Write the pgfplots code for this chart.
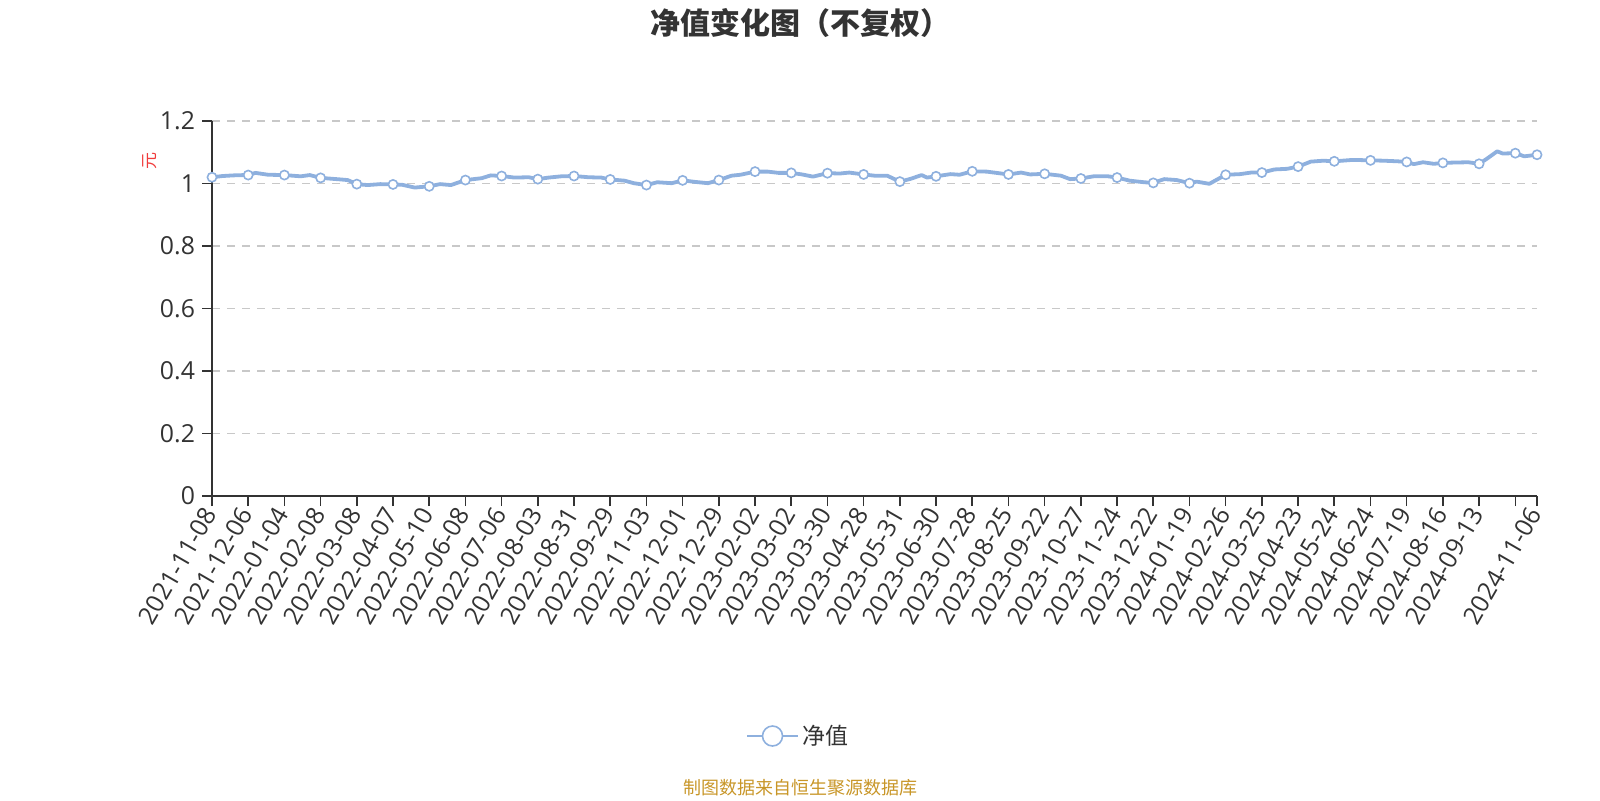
\documentclass[border=0pt]{standalone}
\usepackage{fontspec}
\setmainfont{Open Sans}
\newfontfamily\cjk{Noto Sans CJK SC}
\usepackage{pgfplots}
\pgfplotsset{compat=1.18}
\usepackage{pgfplotstable}
\definecolor{lineblue}{RGB}{142,176,222}
\definecolor{axisgray}{RGB}{51,51,51}
\definecolor{gridgray}{RGB}{200,200,200}
\definecolor{footgold}{RGB}{200,150,40}
\definecolor{ylabred}{RGB}{240,60,60}

\pgfplotstableread{
x y
0 1.020
6 1.024
12 1.026
18 1.027
20 1.027
24 1.034
31 1.028
40 1.027
49 1.023
54 1.027
60 1.018
71 1.013
75 1.011
80 0.998
86 0.995
93 0.998
100 0.997
105 0.996
112 0.987
120 0.991
126 0.998
132 0.995
140 1.011
149 1.017
154 1.026
160 1.024
167 1.019
175 1.020
180 1.014
186 1.019
193 1.023
200 1.024
208 1.020
215 1.019
220 1.013
228 1.009
233 1.001
240 0.995
246 1.004
254 1.001
260 1.010
267 1.005
274 1.001
280 1.011
287 1.025
292 1.028
300 1.038
307 1.038
313 1.034
320 1.034
326 1.029
332 1.022
340 1.033
347 1.032
352 1.035
360 1.029
366 1.025
373 1.025
380 1.006
386 1.015
392 1.027
395 1.019
400 1.023
408 1.030
413 1.028
420 1.039
428 1.038
436 1.032
440 1.029
447 1.035
452 1.029
460 1.031
469 1.025
474 1.014
480 1.016
487 1.023
495 1.023
500 1.019
507 1.009
515 1.004
520 1.002
526 1.014
533 1.011
540 1.001
544 1.006
551 0.999
560 1.028
568 1.030
574 1.035
580 1.035
587 1.045
594 1.047
600 1.054
607 1.070
614 1.073
620 1.071
629 1.075
634 1.075
640 1.074
647 1.073
655 1.071
660 1.069
664 1.062
669 1.068
675 1.063
680 1.066
686 1.067
694 1.068
700 1.063
704 1.078
710 1.103
713 1.096
720 1.097
725 1.087
732 1.092
}\navdata

\pgfplotstableread{
x y
0 1.020
20 1.027
40 1.027
60 1.018
80 0.998
100 0.997
120 0.991
140 1.011
160 1.024
180 1.014
200 1.024
220 1.013
240 0.995
260 1.010
280 1.011
300 1.038
320 1.034
340 1.033
360 1.029
380 1.006
400 1.023
420 1.039
440 1.029
460 1.031
480 1.016
500 1.019
520 1.002
540 1.001
560 1.028
580 1.035
600 1.054
620 1.071
640 1.074
660 1.069
680 1.066
700 1.063
720 1.097
732 1.092
}\navmarks

\begin{document}
\begin{tikzpicture}
\begin{axis}[
  at={(106pt,152pt)}, anchor=south west,
  scale only axis, width=662.5pt, height=187.5pt,
  xmin=0, xmax=732, ymin=0, ymax=1.2,
  clip=false,
  axis x line=bottom, axis y line=left,
  axis line style={-, draw=axisgray, line width=0.8pt},
  tick align=outside,
  major tick length=5pt,
  tick style={draw=axisgray, line width=0.8pt},
  xtick={0,20,40,60,80,100,120,140,160,180,200,220,240,260,280,300,320,340,360,380,400,420,440,460,480,500,520,540,560,580,600,620,640,660,680,700,720,732},
  xticklabels={2021-11-08,2021-12-06,2022-01-04,2022-02-08,2022-03-08,2022-04-07,2022-05-10,2022-06-08,2022-07-06,2022-08-03,2022-08-31,2022-09-29,2022-11-03,2022-12-01,2022-12-29,2023-02-02,2023-03-02,2023-03-30,2023-04-28,2023-05-31,2023-06-30,2023-07-28,2023-08-25,2023-09-22,2023-10-27,2023-11-24,2023-12-22,2024-01-19,2024-02-26,2024-03-25,2024-04-23,2024-05-24,2024-06-24,2024-07-19,2024-08-16,2024-09-13,,2024-11-06},
  xticklabel style={rotate=60, anchor=east, font=\fontsize{12.4}{14}\selectfont, text=axisgray, inner sep=2pt},
  ytick={0,0.2,0.4,0.6,0.8,1,1.2},
  yticklabels={0,0.2,0.4,0.6,0.8,1,1.2},
  yticklabel style={font=\fontsize{12.4}{14}\selectfont, text=axisgray},
  ymajorgrids,
  grid style={draw=gridgray, dash pattern=on 4pt off 3.5pt, line width=0.7pt},
  legend style={at={(0.4434,-0.64)}, anchor=center, draw=none, fill=none,
    font=\cjk\fontsize{11.5}{13}\selectfont, text=axisgray},
  legend image code/.code={
    \draw[lineblue, line width=0.8pt] (0pt,0pt) -- (25.5pt,0pt);
    \draw[lineblue, line width=0.8pt, fill=white] (12.75pt,0pt) circle (5pt);
  },
]
\addplot[lineblue, line width=1.9pt, no markers, forget plot, line join=round] table {\navdata};
\addplot[only marks, mark=*, mark size=2.3pt, mark options={draw=lineblue, fill=white, line width=0.8pt}] table {\navmarks};
\addlegendentry{净值}
\end{axis}
\node[font=\cjk\bfseries\fontsize{15}{17}\selectfont, text=axisgray] at (400pt,388.5pt) {净值变化图（不复权）};
\node[rotate=90, font=\cjk\fontsize{8.5}{10}\selectfont, text=ylabred] at (75pt,319.5pt) {元};
\node[font=\cjk\fontsize{9}{11}\selectfont, text=footgold] at (400pt,6pt) {制图数据来自恒生聚源数据库};
\pgfresetboundingbox
\path[use as bounding box] (0,0) rectangle (800pt,400pt);
\end{tikzpicture}
\end{document}
